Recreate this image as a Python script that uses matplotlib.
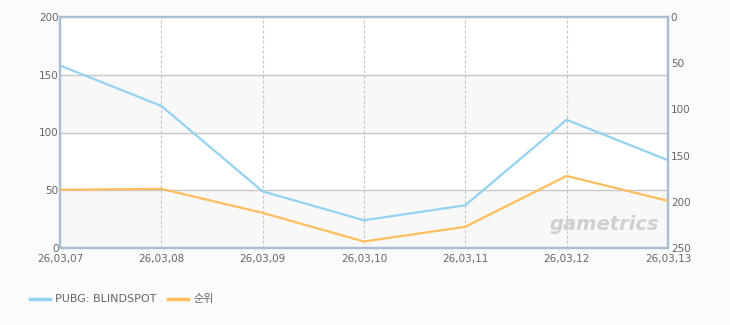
import matplotlib.pyplot as plt
import numpy as np

plt.rcParams['font.family'] = ['DejaVu Sans', 'Noto Sans CJK KR']

dates = ["26,03,07", "26,03,08", "26,03,09", "26,03,10", "26,03,11", "26,03,12", "26,03,13"]
players = [158, 123, 49, 24, 37, 111, 76]
rank = [187, 186, 212, 243, 227, 172, 199]

blue = "#93d3f2"
orange = "#ffbe5c"
tick_color = "#666666"

fig = plt.figure(figsize=(7.3, 3.25), dpi=100, facecolor="#fbfbfb")
ax = fig.add_axes([60 / 730, 1 - 248 / 325, 608 / 730, 231 / 325])
ax.set_facecolor("white")

x = np.arange(len(dates))
ax.set_xlim(0, len(dates) - 1)
ax.set_ylim(0, 200)

# alternating bands
for lo in (0, 100):
    ax.axhspan(lo, lo + 50, color="#f8f8f8", zorder=0)
for yv in (50, 100, 150):
    ax.axhline(yv, color="#c8c8c8", lw=1, zorder=1)
for xv in x[1:-1]:
    ax.axvline(xv, color="#c4c4c4", lw=0.8, ls=(0, (2.5, 2)), zorder=1)

ax.plot(x, players, color=blue, lw=1.6, zorder=3)

ax2 = ax.twinx()
ax2.set_ylim(250, 0)
ax2.plot(x, rank, color=orange, lw=1.6, zorder=3)

for a in (ax, ax2):
    for s in a.spines.values():
        s.set_color("#a9bdd3")
        s.set_linewidth(1.6)
    a.tick_params(length=0, colors=tick_color, labelsize=7.5)

ax.set_xticks(x)
ax.set_xticklabels(dates)
ax.tick_params(axis='x', pad=4)
ax.tick_params(axis='y', pad=1)
ax.set_yticks([0, 50, 100, 150, 200])
ax2.set_yticks([0, 50, 100, 150, 200, 250])
ax2.tick_params(axis='y', pad=2)

# watermark
ax.text(0.985, 0.1, "gametrics", transform=ax.transAxes, ha="right", va="center",
        fontsize=14, style="italic", fontweight="bold", color="#d0d0d0", zorder=2)

# legend
fig.add_artist(plt.Line2D([30 / 730, 50 / 730], [1 - 299 / 325] * 2, color=blue, lw=2.5,
                          transform=fig.transFigure))
fig.text(55 / 730, 1 - 299 / 325, "PUBG: BLINDSPOT", fontsize=8, color=tick_color, va="center")
fig.add_artist(plt.Line2D([168 / 730, 188 / 730], [1 - 299 / 325] * 2, color=orange, lw=2.5,
                          transform=fig.transFigure))
fig.text(193 / 730, 1 - 299 / 325, "순위", fontsize=8, color=tick_color, va="center",
         family=['Noto Sans CJK KR', 'DejaVu Sans'])

fig.savefig("out.png", dpi=100, facecolor=fig.get_facecolor())
